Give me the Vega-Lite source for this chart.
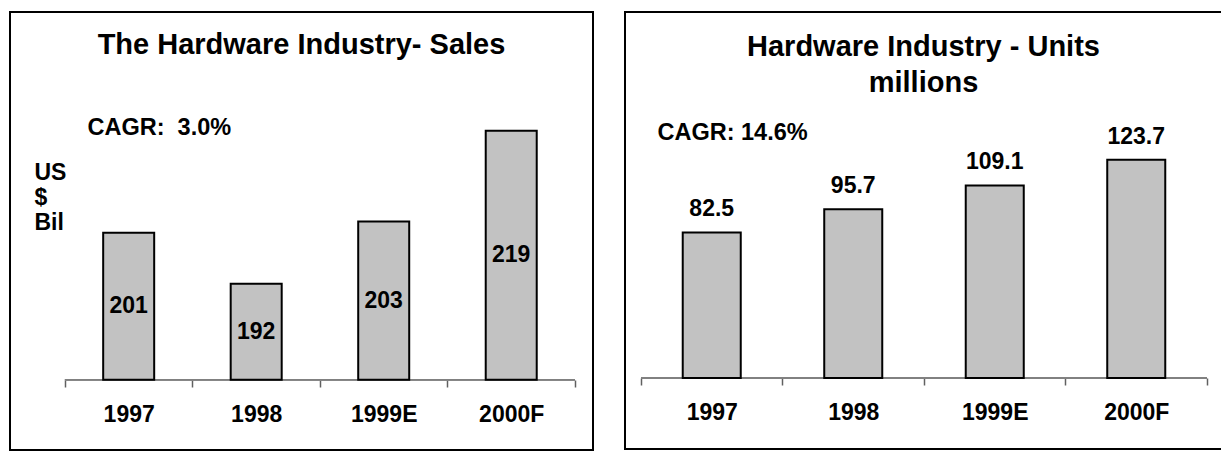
{
  "$schema": "https://vega.github.io/schema/vega-lite/v6.json",
  "padding": {"left": 9, "top": 11, "right": 0, "bottom": 0},
  "background": "white",
  "config": {
    "font": "Liberation Sans",
    "view": {"stroke": "black", "strokeWidth": 2},
    "concat": {"spacing": 30},
    "axis": {"grid": false}
  },
  "datasets": {
    "sales": [
      {"year": "1997", "value": 201},
      {"year": "1998", "value": 192},
      {"year": "1999E", "value": 203},
      {"year": "2000F", "value": 219}
    ],
    "units": [
      {"year": "1997", "value": 82.5},
      {"year": "1998", "value": 95.7},
      {"year": "1999E", "value": 109.1},
      {"year": "2000F", "value": 123.7}
    ]
  },
  "hconcat": [
    {
      "width": 583,
      "height": 438,
      "data": {"name": "sales"},
      "title": {"text": "The Hardware Industry- Sales", "offset": -34, "dy": 28, "baseline": "middle", "fontSize": 29, "fontWeight": "bold", "color": "black", "dx": 0},
      "encoding": {
        "x": {
          "field": "year", "type": "nominal", "sort": null,
          "scale": {"domain": ["1997", "1998", "1999E", "2000F"], "paddingInner": 0, "paddingOuter": 0.286, "align": 0.753},
          "axis": {"title": null, "orient": "bottom", "offset": -70, "tickBand": "extent", "domain": false, "tickColor": "#606060", "tickWidth": 1.5, "tickSize": 7, "labelFontSize": 23, "labelFontWeight": "bold", "labelColor": "black", "labelPadding": 16, "labelAngle": 0}
        }
      },
      "layer": [
        {
          "mark": {"type": "rule", "color": "#808080", "strokeWidth": 1.5},
          "encoding": {
            "x": {"datum": "1997", "bandPosition": 0},
            "x2": {"datum": "2000F", "bandPosition": 1},
            "y": {"datum": 175, "type": "quantitative", "scale": {"domain": [162.6, 240], "zero": false, "nice": false}, "axis": null}
          }
        },
        {
          "mark": {"type": "bar", "fill": "#c2c2c2", "stroke": "black", "strokeWidth": 2, "width": {"band": 0.4}},
          "encoding": {
            "y": {
              "field": "value", "type": "quantitative",
              "scale": {"domain": [162.6, 240], "zero": false, "nice": false},
              "axis": {"orient": "left", "labels": false, "ticks": false, "domain": false, "title": "CAGR: \u00a03.0%", "titleX": 77, "titleY": 115, "titleAngle": 0, "titleAlign": "left", "titleBaseline": "middle", "titleFontSize": 23.5, "titleFontWeight": "bold", "titleColor": "black"}
            },
            "y2": {"datum": 175}
          }
        },
        {
          "mark": {"type": "text", "fontSize": 23, "fontWeight": "bold", "baseline": "middle", "color": "black"},
          "encoding": {
            "y": {
              "field": "value", "type": "quantitative",
              "scale": {"domain": [150.2, 305], "zero": false, "nice": false},
              "axis": {"orient": "right", "labels": false, "ticks": false, "domain": false, "title": ["US", "$", "Bil"], "titleX": -559, "titleY": 160, "titleAngle": 0, "titleAlign": "left", "titleBaseline": "middle", "titleLineHeight": 25, "titleFontSize": 23, "titleFontWeight": "bold", "titleColor": "black"}
            },
            "text": {"field": "value", "type": "quantitative", "format": "d"}
          }
        }
      ],
      "resolve": {"scale": {"y": "independent"}}
    },
    {
      "width": 597,
      "height": 437,
      "data": {"name": "units"},
      "title": {"text": ["Hardware Industry - Units", "millions"], "offset": -53, "dy": 47, "baseline": "middle", "lineHeight": 36, "fontSize": 29, "fontWeight": "bold", "color": "black"},
      "encoding": {
        "x": {
          "field": "year", "type": "nominal", "sort": null,
          "scale": {"domain": ["1997", "1998", "1999E", "2000F"], "paddingInner": 0, "paddingOuter": 0.1095, "align": 0.516},
          "axis": {"title": null, "orient": "bottom", "offset": -71, "tickBand": "extent", "domain": false, "tickColor": "#606060", "tickWidth": 1.5, "tickSize": 7, "labelFontSize": 23, "labelFontWeight": "bold", "labelColor": "black", "labelPadding": 16, "labelAngle": 0}
        },
        "y": {
          "field": "value", "type": "quantitative",
          "scale": {"domain": [-40.2, 207.4], "zero": false, "nice": false},
          "axis": {"orient": "left", "labels": false, "ticks": false, "domain": false, "title": "CAGR: 14.6%", "titleX": 32, "titleY": 120, "titleAngle": 0, "titleAlign": "left", "titleBaseline": "middle", "titleFontSize": 23.5, "titleFontWeight": "bold", "titleColor": "black"}
        }
      },
      "layer": [
        {
          "mark": {"type": "rule", "color": "#808080", "strokeWidth": 1.5},
          "encoding": {
            "x": {"datum": "1997", "bandPosition": 0},
            "x2": {"datum": "2000F", "bandPosition": 1},
            "y": {"datum": 0, "type": "quantitative"}
          }
        },
        {
          "mark": {"type": "bar", "fill": "#c2c2c2", "stroke": "black", "strokeWidth": 2, "width": {"band": 0.41}},
          "encoding": {"y2": {"datum": 0}}
        },
        {
          "mark": {"type": "text", "fontSize": 23, "fontWeight": "bold", "baseline": "middle", "dy": -23, "color": "black"},
          "encoding": {
            "text": {"field": "value", "type": "quantitative", "format": ".1f"}
          }
        }
      ]
    }
  ]
}
